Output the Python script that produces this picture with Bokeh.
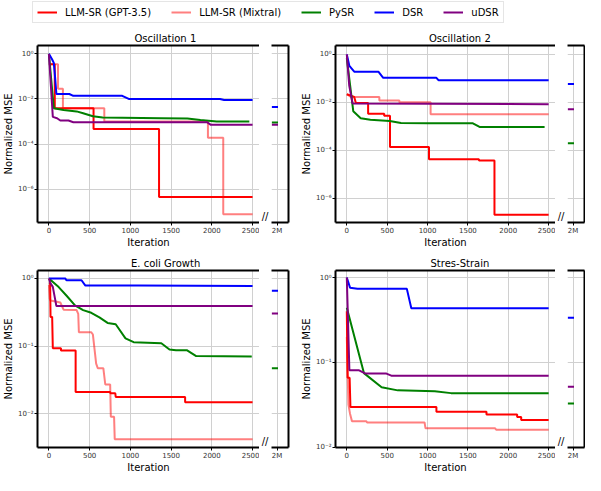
from bokeh.plotting import figure
from bokeh.models import Range1d, FixedTicker, LinearAxis, Legend, LegendItem, Title
from bokeh.core.properties import value
from bokeh.layouts import row, column
from bokeh.embed import file_html
from bokeh.resources import INLINE

SERIES = ["LLM-SR (GPT-3.5)", "LLM-SR (Mixtral)", "PySR", "DSR", "uDSR"]
COLORS = ["#ff0000", "#ff0000", "#008000", "#0000ff", "#800080"]
ALPHAS = [1.0, 0.5, 1.0, 1.0, 1.0]
X_TICKS = [0, 500, 1000, 1500, 2000, 2500]
SIDE_TICK_LABEL = "2M"

# ---------------- Oscillation 1 ----------------
osc1_gpt_x = [0, 72, 72, 548, 548, 1352, 1352, 2500]
osc1_gpt_y = [0.35, 0.35, 3.9e-3, 3.9e-3, 4.6e-4, 4.6e-4, 4.5e-7, 4.5e-7]
osc1_mix_x = [0, 112, 112, 172, 172, 680, 680, 1952, 1952, 2140, 2140, 2500]
osc1_mix_y = [0.35, 0.35, 0.028, 0.028, 3.9e-3, 3.9e-3, 1.0e-3, 1.0e-3, 1.9e-4, 1.9e-4, 7.6e-8, 7.6e-8]
osc1_pysr_x = [0, 60, 180, 340, 420, 540, 660, 1380, 1700, 1860, 2060, 2460]
osc1_pysr_y = [1.0, 3.9e-3, 3.2e-3, 2.8e-3, 2.3e-3, 1.7e-3, 1.5e-3, 1.4e-3, 1.35e-3, 1.15e-3, 1.0e-3, 1.0e-3]
osc1_dsr_x = [0, 40, 60, 75, 92, 250, 300, 900, 980, 2100, 2150, 2500]
osc1_dsr_y = [1.0, 0.56, 0.4, 0.1, 0.0166, 0.0166, 0.0138, 0.0138, 0.010, 0.010, 0.009, 0.009]
osc1_udsr_x = [0, 48, 100, 140, 240, 300, 1940, 1988, 2500]
osc1_udsr_y = [1.0, 1.6e-3, 1.4e-3, 1.1e-3, 1.1e-3, 9.3e-4, 9.3e-4, 7.1e-4, 7.1e-4]
osc1_2m = {"PySR": 9.0e-4, "DSR": 4.4e-3, "uDSR": 7.1e-4}

# ---------------- Oscillation 2 ----------------
osc2_gpt_x = [0, 92, 112, 264, 264, 463, 463, 535, 535, 1018, 1018, 1637, 1637, 1829, 1829, 2500]
osc2_gpt_y = [0.022, 0.017, 9.5e-3, 9.5e-3, 3.4e-3, 3.4e-3, 2.8e-3, 2.8e-3, 1.4e-4, 1.4e-4,
              4.3e-5, 4.3e-5, 3.8e-5, 3.8e-5, 2.1e-7, 2.1e-7]
osc2_mix_x = [0, 50, 403, 403, 651, 651, 1038, 1038, 2500]
osc2_mix_y = [0.022, 0.017, 0.017, 0.012, 0.012, 0.0103, 0.0103, 3.2e-3, 3.2e-3]
osc2_pysr_x = [0, 80, 172, 292, 531, 671, 1010, 1562, 1650, 2450]
osc2_pysr_y = [0.7, 4.3e-3, 2.2e-3, 1.9e-3, 1.7e-3, 1.4e-3, 1.35e-3, 1.35e-3, 9.4e-4, 9.4e-4]
osc2_dsr_x = [0, 32, 92, 391, 451, 1110, 1138, 2500]
osc2_dsr_y = [1.0, 0.33, 0.19, 0.19, 0.106, 0.106, 0.083, 0.083]
osc2_udsr_x = [0, 30, 72, 2500]
osc2_udsr_y = [1.0, 0.05, 9.0e-3, 8.5e-3]
osc2_2m = {"PySR": 2.0e-4, "DSR": 0.059, "uDSR": 5.2e-3}

# ---------------- E. coli Growth ----------------
eco_gpt_x = [0, 15, 20, 40, 48, 148, 148, 328, 328, 750, 755, 815, 820, 1672, 1672, 2500]
eco_gpt_y = [0.85, 0.85, 0.27, 0.27, 0.093, 0.093, 0.086, 0.086, 0.021, 0.021, 0.020, 0.020,
             0.0177, 0.0177, 0.0148, 0.0148]
eco_mix_x = [0, 10, 20, 140, 180, 340, 360, 368, 520, 540, 580, 600, 668, 692, 752, 760, 800, 808, 2500]
eco_mix_y = [0.8, 0.5, 0.47, 0.44, 0.345, 0.34, 0.3, 0.16, 0.16, 0.148, 0.055, 0.047, 0.047,
             0.027, 0.027, 0.009, 0.009, 0.0042, 0.0042]
eco_pysr_x = [0, 120, 220, 320, 420, 520, 620, 720, 820, 940, 1040, 1380, 1480, 1560, 1692, 1808, 2490]
eco_pysr_y = [1.0, 0.745, 0.55, 0.40, 0.34, 0.31, 0.265, 0.22, 0.21, 0.13, 0.114, 0.11, 0.089,
              0.087, 0.087, 0.071, 0.07]
eco_dsr_x = [0, 200, 215, 400, 448, 1100, 2500]
eco_dsr_y = [1.0, 1.0, 0.94, 0.94, 0.785, 0.785, 0.77]
eco_udsr_x = [0, 20, 48, 92, 2500]
eco_udsr_y = [1.0, 0.845, 0.75, 0.39, 0.39]
eco_2m = {"PySR": 0.047, "DSR": 0.656, "uDSR": 0.304}

# ---------------- Stres-Strain ----------------
ss_gpt_x = [0, 10, 35, 45, 1110, 1110, 1730, 1730, 2110, 2110, 2160, 2160, 2500]
ss_gpt_y = [0.4, 0.066, 0.066, 0.030, 0.030, 0.0263, 0.0263, 0.0245, 0.0245, 0.0229, 0.0229, 0.0211, 0.0211]
ss_mix_x = [0, 20, 40, 64, 244, 250, 963, 975, 1837, 1850, 2500]
ss_mix_y = [0.2, 0.032, 0.025, 0.0203, 0.0203, 0.0197, 0.0197, 0.0168, 0.0168, 0.0162, 0.0162]
ss_pysr_x = [0, 212, 431, 631, 1090, 1290, 2500]
ss_pysr_y = [0.44, 0.075, 0.051, 0.047, 0.046, 0.0436, 0.0436]
ss_dsr_x = [0, 40, 132, 743, 799, 2500]
ss_dsr_y = [1.0, 0.76, 0.74, 0.74, 0.436, 0.436]
ss_udsr_x = [0, 32, 152, 232, 491, 551, 2500]
ss_udsr_y = [1.0, 0.081, 0.081, 0.074, 0.074, 0.070, 0.070]
ss_2m = {"PySR": 0.033, "DSR": 0.336, "uDSR": 0.052}

SUP = {1: "10\u2070", 0.1: "10\u207b\u00b9", 0.01: "10\u207b\u00b2",
       0.0001: "10\u207b\u2074", 1e-06: "10\u207b\u2076"}

PANELS = [
    dict(title="Oscillation 1", ylim=(3.3e-8, 2.35), yticks=[1, 0.01, 0.0001, 1e-06],
         lines=[(osc1_gpt_x, osc1_gpt_y), (osc1_mix_x, osc1_mix_y), (osc1_pysr_x, osc1_pysr_y),
                (osc1_dsr_x, osc1_dsr_y), (osc1_udsr_x, osc1_udsr_y)], side=osc1_2m),
    dict(title="Oscillation 2", ylim=(1.0e-7, 2.35), yticks=[1, 0.01, 0.0001, 1e-06],
         lines=[(osc2_gpt_x, osc2_gpt_y), (osc2_mix_x, osc2_mix_y), (osc2_pysr_x, osc2_pysr_y),
                (osc2_dsr_x, osc2_dsr_y), (osc2_udsr_x, osc2_udsr_y)], side=osc2_2m),
    dict(title="E. coli Growth", ylim=(3.16e-3, 1.31), yticks=[1, 0.1, 0.01],
         lines=[(eco_gpt_x, eco_gpt_y), (eco_mix_x, eco_mix_y), (eco_pysr_x, eco_pysr_y),
                (eco_dsr_x, eco_dsr_y), (eco_udsr_x, eco_udsr_y)], side=eco_2m),
    dict(title="Stres-Strain", ylim=(0.00999, 1.21), yticks=[1, 0.1, 0.01],
         lines=[(ss_gpt_x, ss_gpt_y), (ss_mix_x, ss_mix_y), (ss_pysr_x, ss_pysr_y),
                (ss_dsr_x, ss_dsr_y), (ss_udsr_x, ss_udsr_y)], side=ss_2m),
]

FONT = "DejaVu Sans"
GRID = "#d0d0d0"
TICKC = "#333333"
XLO, XHI = -140, 2585
SIDE_X = (0.0, 3.4)
SIDE_TICK = 1.1
DASH_X = (0.05, 1.3)
# approximate rendered title widths (px, 10px DejaVu Sans) for centering over main+side
TITLE_W = {"Oscillation 1": 62, "Oscillation 2": 62, "E. coli Growth": 69, "Stres-Strain": 59}


def style_axis(ax):
    ax.axis_line_width = 2
    ax.axis_line_color = "black"
    ax.major_tick_line_color = "black"
    ax.major_tick_out = 3
    ax.major_tick_in = 0
    ax.minor_tick_line_color = None
    ax.major_label_text_font_size = "7px"
    ax.major_label_text_font = FONT
    ax.major_label_text_color = TICKC
    ax.major_label_standoff = 1
    ax.axis_label_text_font_size = "10px"
    ax.axis_label_text_font_style = "normal"
    ax.axis_label_text_font = FONT
    ax.axis_label_text_color = "black"
    ax.axis_label_standoff = 1


def spine_axis(ax):
    ax.axis_line_width = 2
    ax.axis_line_color = "black"
    ax.major_tick_line_color = None
    ax.minor_tick_line_color = None
    ax.major_label_text_font_size = "0px"
    ax.major_label_standoff = 0
    ax.major_tick_out = 0
    ax.major_tick_in = 0


def make_panel(pan, left_b, frame_w, gap, side_w, right_b, top_b, bot_b, frame_h):
    H = top_b + frame_h + bot_b
    ylo, yhi = pan["ylim"]
    m = figure(width=left_b + frame_w, height=H, x_range=Range1d(XLO, XHI),
               y_range=Range1d(ylo, yhi), y_axis_type="log", output_backend="svg",
               toolbar_location=None, min_border_left=left_b, min_border_right=0,
               min_border_top=top_b, min_border_bottom=bot_b, outline_line_color=None)
    for (xs, ys), c, a in zip(pan["lines"], COLORS, ALPHAS):
        m.line(xs, ys, line_color=c, line_alpha=a, line_width=2)
    style_axis(m.xaxis[0])
    style_axis(m.yaxis[0])
    m.xaxis.ticker = FixedTicker(ticks=X_TICKS)
    m.yaxis.ticker = FixedTicker(ticks=pan["yticks"])
    m.yaxis.major_label_overrides = {t: SUP[t] for t in pan["yticks"]}
    m.xaxis.axis_label = "Iteration"
    m.yaxis.axis_label = "Normalized MSE"
    top = LinearAxis(ticker=FixedTicker(ticks=[]))
    spine_axis(top)
    m.add_layout(top, "above")
    m.xgrid.grid_line_color = GRID
    m.ygrid.grid_line_color = GRID
    center = (frame_w + gap + side_w) / 2.0
    t = Title(text=pan["title"], align="left", offset=center - TITLE_W[pan["title"]] / 2.0,
              text_font=FONT, text_font_size="10px", text_font_style="normal",
              text_color="black", standoff=4)
    m.add_layout(t, "above")

    # gap figure holding the axis-break marks
    g = figure(width=gap, height=H, x_range=Range1d(0, gap), y_range=Range1d(-8, frame_h),
               x_axis_type=None, y_axis_type=None, output_backend="svg", toolbar_location=None,
               min_border_left=0, min_border_right=0, min_border_top=top_b,
               min_border_bottom=bot_b - 8, outline_line_color=None)
    g.grid.visible = False
    g.text(x=[gap / 2.0 - 0.5], y=[-2], text=["//"], text_align="center", text_baseline="middle",
           text_font=value(FONT), text_font_size="10px", text_color="black")

    s = figure(width=side_w + right_b, height=H, x_range=Range1d(*SIDE_X),
               y_range=Range1d(ylo, yhi), y_axis_type="log", y_axis_location="right",
               output_backend="svg", toolbar_location=None, min_border_left=0,
               min_border_right=right_b, min_border_top=top_b, min_border_bottom=bot_b,
               outline_line_color=None)
    names = ["PySR", "DSR", "uDSR"]
    cols = [COLORS[SERIES.index(n)] for n in names]
    vals = [pan["side"][n] for n in names]
    s.segment(x0=[DASH_X[0]] * 3, y0=vals, x1=[DASH_X[1]] * 3, y1=vals, line_color=cols, line_width=2)
    style_axis(s.xaxis[0])
    s.xaxis.ticker = FixedTicker(ticks=[SIDE_TICK])
    s.xaxis.major_label_overrides = {SIDE_TICK: SIDE_TICK_LABEL}
    spine_axis(s.yaxis[0])
    s.yaxis.ticker = FixedTicker(ticks=pan["yticks"])
    s.yaxis.major_label_overrides = {tk: "" for tk in pan["yticks"]}
    top2 = LinearAxis(ticker=FixedTicker(ticks=[]))
    spine_axis(top2)
    s.add_layout(top2, "above")
    s.xgrid.grid_line_color = GRID
    s.ygrid.grid_line_color = GRID
    return row(m, g, s)


# legend strip
lf = figure(width=585, height=25, x_range=Range1d(0, 1), y_range=Range1d(0, 1),
            x_axis_type=None, y_axis_type=None, toolbar_location=None, output_backend="svg",
            min_border=0, outline_line_color=None)
lf.grid.visible = False
items = []
for name, c, a in zip(SERIES, COLORS, ALPHAS):
    r = lf.line([-5, -4], [-5, -4], line_color=c, line_alpha=a, line_width=2)
    items.append(LegendItem(label=name, renderers=[r]))
leg = Legend(items=items, orientation="horizontal", location=(32, 2), glyph_width=20,
             glyph_height=12, label_height=12, label_standoff=8, spacing=20, padding=4,
             margin=0, label_text_font_size="10px", label_text_font=FONT,
             label_text_color="black",
             border_line_color="#cccccc", border_line_width=1, background_fill_color="white")
lf.add_layout(leg)

p1 = make_panel(PANELS[0], 32, 227, 12, 17, 4, 20, 24, 181)
p2 = make_panel(PANELS[1], 43, 220, 12, 17, 1, 20, 24, 181)
p3 = make_panel(PANELS[2], 32, 227, 12, 17, 4, 20, 24, 181)
p4 = make_panel(PANELS[3], 43, 220, 12, 17, 1, 20, 24, 181)

p = column(lf, row(p1, p2), row(p3, p4))

open("out.html", "w").write(file_html(p, INLINE))
